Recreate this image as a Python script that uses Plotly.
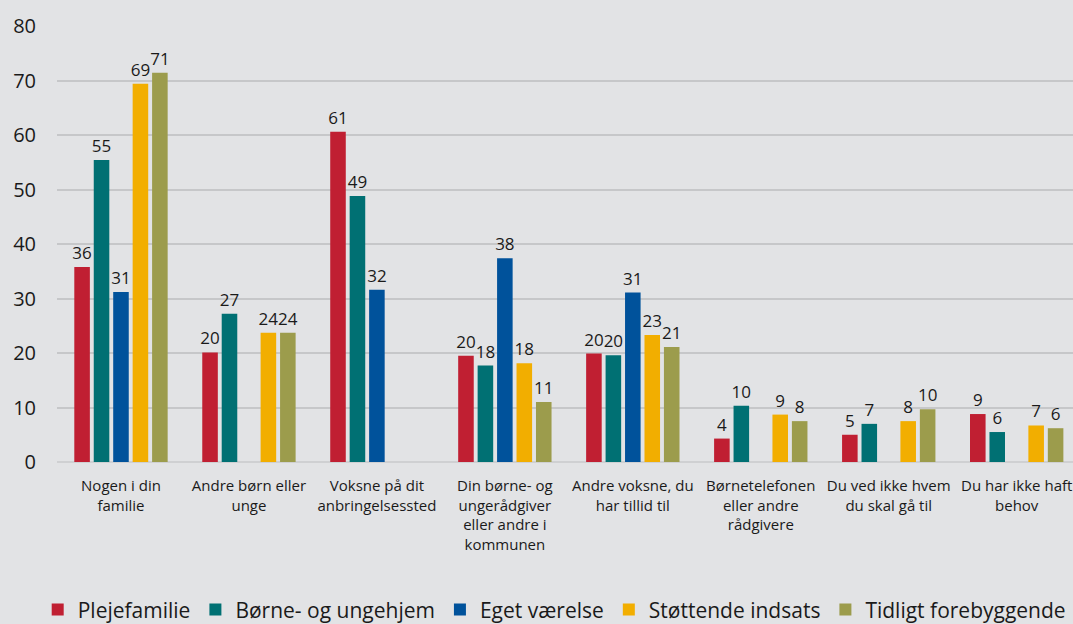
import plotly.graph_objects as go

categories = [
    "Nogen i din<br>familie",
    "Andre børn eller<br>unge",
    "Voksne på dit<br>anbringelsessted",
    "Din børne- og<br>ungerådgiver<br>eller andre i<br>kommunen",
    "Andre voksne, du<br>har tillid til",
    "Børnetelefonen<br>eller andre<br>rådgivere",
    "Du ved ikke hvem<br>du skal gå til",
    "Du har ikke haft<br>behov",
]

series_names = ["Plejefamilie", "Børne- og ungehjem", "Eget værelse",
                "Støttende indsats", "Tidligt forebyggende"]

plejefamilie = [35.8, 20.1, 60.6, 19.5, 19.9, 4.3, 5.0, 8.8]
plejefamilie_lbl = ["36", "20", "61", "20", "20", "4", "5", "9"]
boernehjem = [55.4, 27.2, 48.8, 17.7, 19.6, 10.3, 7.0, 5.5]
boernehjem_lbl = ["55", "27", "49", "18", "20", "10", "7", "6"]
eget = [31.2, None, 31.6, 37.4, 31.1, None, None, None]
eget_lbl = ["31", "", "32", "38", "31", "", "", ""]
stoettende = [69.4, 23.7, None, 18.1, 23.3, 8.7, 7.5, 6.7]
stoettende_lbl = ["69", "24", "", "18", "23", "9", "8", "7"]
tidligt = [71.4, 23.7, None, 11.0, 21.1, 7.5, 9.7, 6.2]
tidligt_lbl = ["71", "24", "", "11", "21", "8", "10", "6"]

y_ticks = [0, 10, 20, 30, 40, 50, 60, 70, 80]

colors = ["#c01f32", "#007073", "#00529b", "#f2ae00", "#9c9c4c"]
values = [plejefamilie, boernehjem, eget, stoettende, tidligt]
labels = [plejefamilie_lbl, boernehjem_lbl, eget_lbl, stoettende_lbl, tidligt_lbl]

FONT = "Open Sans"
TXT = "#1a1a1a"
BG = "#e2e3e5"

fig = go.Figure()
for name, vals, lbl, col in zip(series_names, values, labels, colors):
    fig.add_trace(go.Bar(
        name=name, x=list(range(len(categories))), y=vals,
        text=lbl, textposition="outside", constraintext="none",
        textfont=dict(family=FONT, size=17, color=TXT),
        marker=dict(color=col, line=dict(width=0)),
        cliponaxis=False,
    ))

fig.update_layout(
    width=1073, height=624,
    margin=dict(l=57, r=0, t=26, b=162, autoexpand=False),
    paper_bgcolor=BG, plot_bgcolor=BG,
    barmode="group", bargap=0.24, bargroupgap=0.2,
    font=dict(family=FONT, color=TXT),
    showlegend=True,
    legend=dict(orientation="h", x=-0.019, xanchor="left", y=-0.339, yanchor="middle",
                font=dict(family=FONT, size=21, color=TXT),
                itemwidth=30, tracegroupgap=0),
    xaxis=dict(
        tickmode="array", tickvals=list(range(len(categories))), ticktext=categories,
        range=[-0.5, 7.44], showgrid=False, zeroline=False, showline=False,
        tickfont=dict(family=FONT, size=15, color=TXT), ticklabelstandoff=13,
        automargin=False, ticklabeloverflow="allow",
    ),
    yaxis=dict(
        range=[0, 80], tickvals=y_ticks, showgrid=True, gridcolor="#c6c7c9", gridwidth=1.5,
        zeroline=True, zerolinecolor="#cfd0d2", zerolinewidth=2,
        tickfont=dict(family=FONT, size=20, color=TXT), ticklabelstandoff=20,
        automargin=False,
    ),
)

fig.write_html("out.html", config={"displayModeBar": False},
               post_script="document.body.style.margin='0';document.body.style.background='%s';" % BG)
